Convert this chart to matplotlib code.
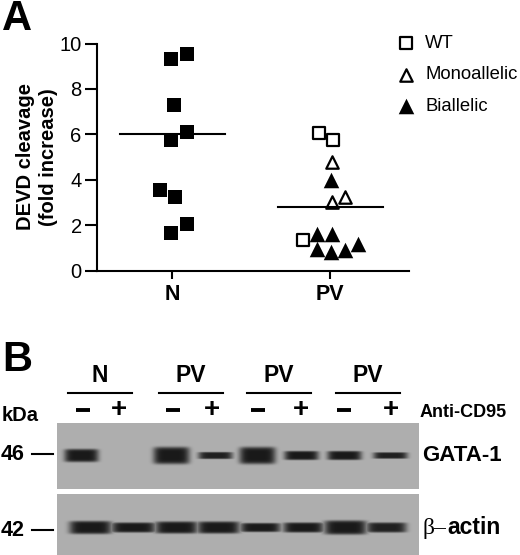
import numpy as np
import matplotlib
matplotlib.use('Agg')
import matplotlib.pyplot as plt

plt.rcParams['font.family'] = ['Liberation Sans', 'DejaVu Sans']

W, H = 520, 555

# panel A, x given in category units (N=0, PV=1)
n_x = [-0.006, 0.095, 0.01, -0.006, 0.095, -0.076, 0.02, -0.006, 0.095]
n_y = [9.3, 9.55, 7.3, 5.75, 6.1, 3.55, 3.25, 1.65, 2.05]
wt_x = [0.93, 1.02, 0.83]
wt_y = [6.05, 5.75, 1.35]
mono_x = [1.01, 1.01, 1.095]
mono_y = [4.8, 3.0, 3.25]
bi_x = [1.005, 0.92, 1.01, 0.92, 1.005, 1.095, 1.18]
bi_y = [4.0, 1.6, 1.6, 0.95, 0.8, 0.9, 1.15]
mean_n = 6.03
mean_pv = 2.78
groups = ['N', 'PV']
yticks = [0, 2, 4, 6, 8, 10]

# panel B, bands in pixels of the blot: centre, half width, half height, darkness
gata_x = [81, 171, 215, 257, 301, 344, 390]
gata_w = [17, 18, 17, 18, 17, 17, 17]
gata_h = [6.5, 8.5, 3.5, 8.5, 4.5, 4.5, 3.2]
gata_d = [1.0, 1.0, 0.95, 1.0, 1.0, 1.0, 0.95]
actin_x = [90, 133, 176, 218, 260, 303, 345, 386]
actin_w = [21, 22, 21, 21, 20, 20, 21, 20]
actin_h = [6.5, 5, 6, 6, 4.5, 5, 7, 5]
actin_d = [1.0, 1.0, 1.0, 1.0, 1.0, 1.0, 1.0, 0.95]
lane_groups = ['N', 'PV', 'PV', 'PV']
group_x = [100, 191, 279, 368]
minus_x = [83, 173, 258, 344]
plus_x = [119, 212, 301, 391]


def blot(centres, widths, heights, dark, x0, x1, y0, y1, yc, bg=174):
    xx, yy = np.meshgrid(np.arange(x0, x1), np.arange(y0, y1))
    out = np.zeros(xx.shape)
    for c, w, h, d in zip(centres, widths, heights, dark):
        b = np.exp(-(np.abs(xx - c) / w) ** 6 - (np.abs(yy - yc) / h) ** 6)
        out = np.maximum(out, b * d)
    return bg - (bg - 25) * out


fig = plt.figure(figsize=(W / 100, H / 100), dpi=100)

ax = fig.add_axes([97 / W, 1 - 270.5 / H, (409 - 97) / W, (270.5 - 43.5) / H])
ax.scatter(n_x, n_y, marker='s', s=100, c='black', linewidths=0, zorder=3)
ax.scatter(wt_x, wt_y, marker='s', s=70, facecolors='white', edgecolors='black', linewidths=1.6, zorder=3, label='WT')
ax.scatter(mono_x, mono_y, marker='^', s=80, facecolors='white', edgecolors='black', linewidths=1.6, zorder=3, label='Monoallelic')
ax.scatter(bi_x, bi_y, marker='^', s=125, c='black', linewidths=0, zorder=3, label='Biallelic')
ax.plot([-0.33, 0.335], [mean_n, mean_n], color='black', lw=1.5, zorder=4)
ax.plot([0.67, 1.335], [mean_pv, mean_pv], color='black', lw=1.5, zorder=4)

ax.set_xlim(-0.475, 1.5)
ax.set_ylim(0, 10)
ax.set_xticks([0, 1])
ax.set_xticklabels(groups, fontsize=15.5, fontweight='bold')
ax.set_yticks(yticks)
ax.tick_params(axis='y', labelsize=14.5, width=1.5, length=9, pad=2)
ax.tick_params(axis='x', width=1.5, length=6, pad=4)
ax.spines['top'].set_visible(False)
ax.spines['right'].set_visible(False)
ax.spines['left'].set_linewidth(1.5)
ax.spines['bottom'].set_linewidth(1.5)
ax.set_ylabel('DEVD cleavage\n(fold increase)', fontsize=14.5, fontweight='bold', labelpad=1, linespacing=1.3)
ax.legend(loc='upper left', bbox_to_anchor=(391 / W, 1 - 35 / H), bbox_transform=fig.transFigure,
          frameon=False, fontsize=13.3, labelspacing=0.78, handlelength=1.6, handletextpad=0.25,
          borderpad=0, borderaxespad=0)

# everything else is placed in picture pixels
top = fig.add_axes([0, 0, 1, 1], facecolor='none')
top.set_xlim(0, W)
top.set_ylim(H, 0)
top.axis('off')

top.text(2, 30, 'A', fontsize=30, fontweight='bold')
top.text(2, 371, 'B', fontsize=30, fontweight='bold')

for name, gx in zip(lane_groups, group_x):
    top.text(gx, 382, name, fontsize=16.5, fontweight='bold', ha='center', va='baseline')
    top.plot([gx - 32, gx + 32], [393, 393], color='black', lw=1.5)
for mx in minus_x:
    top.plot([mx - 7, mx + 7], [410, 410], color='black', lw=2.8, solid_capstyle='butt')
for px in plus_x:
    top.text(px, 417, '+', fontsize=20, fontweight='bold', ha='center', va='baseline')
top.text(420, 417, 'Anti-CD95', fontsize=13, fontweight='bold')
top.text(2, 421, 'kDa', fontsize=14.5, fontweight='bold')

g = blot(gata_x, gata_w, gata_h, gata_d, 57, 419, 423, 489, 455)
a = blot(actin_x, actin_w, actin_h, actin_d, 57, 419, 494, 555, 527)
top.imshow(g, cmap='gray', vmin=0, vmax=255, extent=[57, 419, 489, 423], aspect='auto', interpolation='bilinear')
top.imshow(a, cmap='gray', vmin=0, vmax=255, extent=[57, 419, 555, 494], aspect='auto', interpolation='bilinear')
top.set_xlim(0, W)
top.set_ylim(H, 0)

top.text(1, 460, '46', fontsize=15.5, fontweight='bold')
top.text(1, 536, '42', fontsize=15.5, fontweight='bold')
top.plot([32, 53], [454, 454], color='black', lw=1.5)
top.plot([32, 53], [530, 530], color='black', lw=1.5)
top.text(422, 461, 'GATA-1', fontsize=16, fontweight='bold')
top.text(422, 534, 'β–', fontsize=17, family='Liberation Serif')
top.text(447, 534, 'actin', fontsize=16.5, fontweight='bold')

fig.savefig('out.png', dpi=100)
